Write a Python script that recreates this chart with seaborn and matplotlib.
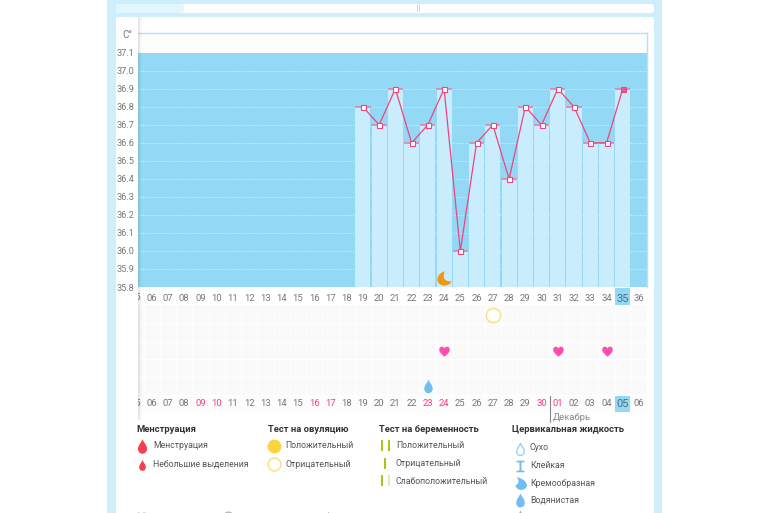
import numpy as np
import pandas as pd
import matplotlib
matplotlib.use("Agg")
import matplotlib.pyplot as plt
from matplotlib.path import Path
from matplotlib.patches import Rectangle, FancyBboxPatch
from matplotlib.transforms import Bbox
import seaborn as sns

# ---------- data ----------
cycle_days = list(range(19, 36))
temperatures = [36.8, 36.7, 36.9, 36.6, 36.7, 36.9, 36.0, 36.6, 36.7, 36.4,
                36.8, 36.7, 36.9, 36.8, 36.6, 36.6, 36.9]
all_days = list(range(5, 37))
y_ticks = [35.8, 35.9, 36.0, 36.1, 36.2, 36.3, 36.4, 36.5, 36.6, 36.7, 36.8,
           36.9, 37.0, 37.1]
date_labels = ["05", "06", "07", "08", "09", "10", "11", "12", "13", "14", "15",
               "16", "17", "18", "19", "20", "21", "22", "23", "24", "25", "26",
               "27", "28", "29", "30", "01", "02", "03", "04", "05", "06"]
weekend_labels_days = [9, 10, 16, 17, 23, 24, 30, 31]
today_cycle_day = 35
heart_days = [24, 31, 34]
heart_rows = [2, 2, 2]
ring_days = [27]
ring_rows = [0]
drop_days = [23]
drop_rows = [4]
moon_days = [24]
moon_temps = [35.85]
legend_groups = {
    "Менструация": ["Менструация", "Небольшие выделения"],
    "Тест на овуляцию": ["Положительный", "Отрицательный"],
    "Тест на беременность": ["Положительный", "Отрицательный", "Слабоположительный"],
    "Цервикальная жидкость": ["Сухо", "Клейкая", "Кремообразная", "Водянистая"],
}

# ---------- style ----------
sns.set_theme(style="white")
plt.rcParams["font.family"] = ["Roboto", "DejaVu Sans"]
W, H = 770, 513
PAGE = "#cfeefc"
SKY = "#93d9f6"
BAR = "#c9edfd"
PINK = "#f0447c"
TXT = "#777777"
LEG = "#555555"
HEAD = "#333333"


def rect_of(x0, y0, x1, y1):
    return [x0 / W, 1 - y1 / H, (x1 - x0) / W, (y1 - y0) / H]


drop_marker = Path(
    [(0, 1), (0.18, 0.55), (0.62, 0.2), (0.62, -0.35), (0.62, -0.75), (0.3, -1), (0, -1),
     (-0.3, -1), (-0.62, -0.75), (-0.62, -0.35), (-0.62, 0.2), (-0.18, 0.55), (0, 1)],
    [Path.MOVETO] + [Path.CURVE4] * 12)
heart_marker = Path(
    [(0, -1), (-0.35, -0.65), (-1, -0.3), (-1, 0.35), (-1, 1.0), (-0.3, 1.15), (0, 0.6),
     (0.3, 1.15), (1, 1.0), (1, 0.35), (1, -0.3), (0.35, -0.65), (0, -1)],
    [Path.MOVETO] + [Path.CURVE4] * 12)
moon_marker = Path(
    [(0.05, 1), (-0.65, 0.85), (-1, 0.3), (-1, -0.1), (-1, -0.7), (-0.5, -1), (0, -1),
     (0.45, -1), (0.85, -0.75), (1, -0.4), (0.45, -0.45), (-0.05, -0.25), (-0.1, 0.2),
     (-0.12, 0.55), (-0.05, 0.8), (0.05, 1)],
    [Path.MOVETO] + [Path.CURVE4] * 15)
creamy_marker = Path(
    [(-0.6, 1), (0.4, 0.8), (1, 0.2), (1, -0.3), (1, -0.75), (0.55, -1), (0.1, -1),
     (-0.35, -1), (-0.7, -0.7), (-0.8, -0.35), (-0.3, -0.05), (-0.1, 0.35), (-0.6, 1)],
    [Path.MOVETO] + [Path.CURVE4] * 12)
hourglass_marker = Path(
    [(-0.7, 1), (0.7, 1), (0.7, 0.75), (0.2, 0.7), (0.15, 0), (0.2, -0.7), (0.7, -0.75),
     (0.7, -1), (-0.7, -1), (-0.7, -0.75), (-0.2, -0.7), (-0.15, 0), (-0.2, 0.7),
     (-0.7, 0.75), (-0.7, 1)],
    [Path.MOVETO] + [Path.LINETO] * 13 + [Path.CLOSEPOLY])

fig = plt.figure(figsize=(W / 100, H / 100), dpi=100, facecolor="white")

# ---------- page background ----------
bg = fig.add_axes([0, 0, 1, 1], zorder=0)
bg.set_xlim(0, W)
bg.set_ylim(H, 0)
bg.axis("off")
bg.add_patch(Rectangle((107, 0), 555, H, fc=PAGE, ec="none"))
bg.add_patch(FancyBboxPatch((116, 4), 538, 9, boxstyle="round,pad=0,rounding_size=3", fc="white", ec="none"))
bg.add_patch(FancyBboxPatch((116, 4), 68, 9, boxstyle="round,pad=0,rounding_size=3", fc="#e2f6fe", ec="none"))
bg.add_patch(FancyBboxPatch((116, 17), 538, 500, boxstyle="round,pad=0,rounding_size=2", fc="white", ec="none"))
for gx in (417.3, 419.3):
    bg.add_patch(Rectangle((gx, 5), 1.1, 6.5, fc="#d4d4d4", ec="none"))

XL = (5.157, 36.46)

# ---------- temperature chart ----------
ax = fig.add_axes(rect_of(138, 33, 646.5, 287), zorder=2)
ax.set_facecolor("#fdfefb")
ax.axhspan(35.8, 37.1, color=SKY, lw=0, zorder=0)
ax.hlines(y_ticks[:-1], XL[0], XL[1], colors="#dff5fd", lw=0.6, linestyles=(0, (1.2, 1.6)), zorder=1)
frame = pd.DataFrame({"day": cycle_days, "temp": temperatures})
sns.barplot(data=frame, x="day", y="temp", native_scale=True, color=BAR, saturation=1,
            width=0.93, errorbar=None, ax=ax, zorder=2, linewidth=0)
ax.hlines(temperatures, np.array(cycle_days) - 0.47, np.array(cycle_days) + 0.47,
          colors="#ea7aa3", lw=1.1, zorder=3)
sns.lineplot(data=frame, x="day", y="temp", color=PINK, lw=0.9, ax=ax, zorder=4,
             marker="s", markersize=3.6, markerfacecolor="white", markeredgecolor=PINK,
             markeredgewidth=0.8, errorbar=None, estimator=None)
ax.plot(cycle_days[-1:], temperatures[-1:], "s", ms=3.2, mfc="#e2608c", mec=PINK, mew=0.6, zorder=5)
sns.scatterplot(x=moon_days, y=moon_temps, marker=moon_marker, s=105, color="#f2950f",
                linewidth=0, ax=ax, zorder=5, clip_on=False)
ax.add_patch(Rectangle((today_cycle_day - 0.47, -18.5 / 254), 0.94, 18 / 254, fc=SKY, ec="none",
                       transform=ax.get_xaxis_transform(), clip_on=False, zorder=0.2))
ax.set_yticks(y_ticks)
ax.set_yticklabels([f"{v:.1f}" for v in y_ticks], fontsize=6.6, color=TXT)
ax.set_xticks(all_days)
ax.set_xticklabels([f"{d:02d}" for d in all_days], fontsize=6.8, color=TXT)
ax.set_xlim(*XL)
ax.set_ylim(35.8, 37.21)
ax.tick_params(axis="both", length=0)
ax.tick_params(axis="y", pad=2.5)
ax.tick_params(axis="x", pad=5)
ax.set_xlabel("")
ax.set_ylabel("")
for s in ("left", "bottom"):
    ax.spines[s].set_visible(False)
for s in ("top", "right"):
    ax.spines[s].set_color("#b0e5f9")
    ax.spines[s].set_linewidth(1.0)
clip = Bbox([[138, 0], [646.5, H]])
for lab in ax.get_xticklabels():
    if lab.get_text() == str(today_cycle_day):
        lab.set_color("#556b75")
        lab.set_fontsize(8)
first = ax.text(all_days[0], -10 / 254, f"{all_days[0]:02d}", transform=ax.get_xaxis_transform(),
                fontsize=6.8, color=TXT, ha="center", va="center")
first.set_clip_box(clip)
first.set_clip_on(True)

# ---------- symptom grid ----------
sx = fig.add_axes(rect_of(138, 305, 646.5, 412), zorder=2)
sx.set_facecolor("#fafafa")
sx.axhspan(4.5, 5.44, color="#fcfcfc", lw=0, zorder=0)
sx.vlines(np.array(all_days) + 0.5, -0.55, 5.44, colors="white", lw=0.7, zorder=1)
sx.hlines(np.arange(0.5, 5.5), *XL, colors="white", lw=0.9, zorder=1)
sx.add_patch(Rectangle((today_cycle_day - 0.47, 4.55), 0.94, 0.89, fc=SKY, ec="none", zorder=1))
sns.scatterplot(x=heart_days, y=heart_rows, marker=heart_marker, s=75, color="#ff4fae",
                linewidth=0, ax=sx, zorder=3)
sns.scatterplot(x=ring_days, y=ring_rows, marker="o", s=105, facecolor="white",
                edgecolor="#fbe08a", linewidth=1.1, ax=sx, zorder=3)
sns.scatterplot(x=drop_days, y=drop_rows, marker=drop_marker, s=95, color="#72bdf2",
                linewidth=0, ax=sx, zorder=3)
sx.set_xticks([])
sx.set_yticks([])
sx.set_xlabel("")
sx.set_ylabel("")
sx.set_xlim(*XL)
sx.set_ylim(5.44, -0.55)
sns.despine(ax=sx, left=True, bottom=True)
for day, lab in zip(all_days, date_labels):
    red = day in weekend_labels_days
    today = day == today_cycle_day
    t = sx.text(day, 4.98, lab, ha="center", va="center", zorder=4,
                fontsize=8 if today else 6.8,
                color="#556b75" if today else ("#ff3d77" if red else TXT))
    t.set_clip_box(clip)
    t.set_clip_on(True)

# ---------- overlay: shadow strip, divider, legend ----------
sh = fig.add_axes(rect_of(138, 17, 142, 420), zorder=3)
sh.axis("off")
grad = np.zeros((1, 32, 4))
grad[0, :, 3] = np.linspace(0.12, 0.0, 32)
sh.imshow(grad, aspect="auto", extent=(0, 1, 0, 1))

fg = fig.add_axes([0, 0, 1, 1], zorder=4)
fg.set_xlim(0, W)
fg.set_ylim(H, 0)
fg.axis("off")
fg.text(122, 35, "C°", fontsize=7, color=TXT, va="center")
fg.plot([549.5, 549.5], [396, 422], color="#888888", lw=0.8)
fg.text(553, 417.5, "Декабрь", fontsize=6.8, color="#888888", va="center")

col_x = [136, 268, 379, 512.5]
text_x = [153, 285, 396, 530]
row_y = [[446, 464.5], [446, 464.5], [446, 464, 481], [448, 466, 483, 500]]
for (head, items), cx, tx, ys in zip(legend_groups.items(), col_x, text_x, row_y):
    fg.text(cx, 430, head, fontsize=6.75, fontweight="bold", color=HEAD, va="center")
    for item, y in zip(items, ys):
        fg.text(tx, y, item, fontsize=6.3, color=LEG, va="center")

fg.scatter([142], [446], marker=drop_marker, s=110, color="#f4404f", lw=0)
fg.scatter([142], [464.5], marker=drop_marker, s=60, color="#f4404f", lw=0)
fg.scatter([273.5], [446], marker="o", s=100, color="#fdd340", lw=0)
fg.scatter([273.5], [464], marker="o", s=85, facecolor="white", edgecolor="#fbe08a", lw=1.1)
for x, y, c in [(381.7, 445.5, "#9ccb1c"), (389, 445.5, "#9ccb1c"), (385, 463.5, "#9ccb1c"),
                (381.7, 480.5, "#9ccb1c"), (389, 480.5, "#dcedb8")]:
    fg.add_patch(Rectangle((x - 1, y - 5.5), 2.2, 11, fc=c, ec="none"))
fg.scatter([519.5], [448.5], marker=drop_marker, s=75, facecolor="white", edgecolor="#8fcdf7", lw=0.9)
fg.scatter([519.5], [466], marker=hourglass_marker, s=70, color="#72bdf2", lw=0)
fg.scatter([519.5], [483], marker=creamy_marker, s=85, color="#72bdf2", lw=0)
fg.scatter([519.5], [500], marker=drop_marker, s=100, color="#72bdf2", lw=0)
fg.scatter([519.5], [517], marker=drop_marker, s=100, color="#72bdf2", lw=0)
fg.scatter([141], [517], marker=heart_marker, s=80, color="#ff7cc4", lw=0)
fg.scatter([228], [516], marker="o", s=55, color="#bbbbbb", lw=0)
fg.scatter([328], [517], marker=drop_marker, s=70, color="#f7a64a", lw=0)

fig.savefig("out.png", dpi=100)
